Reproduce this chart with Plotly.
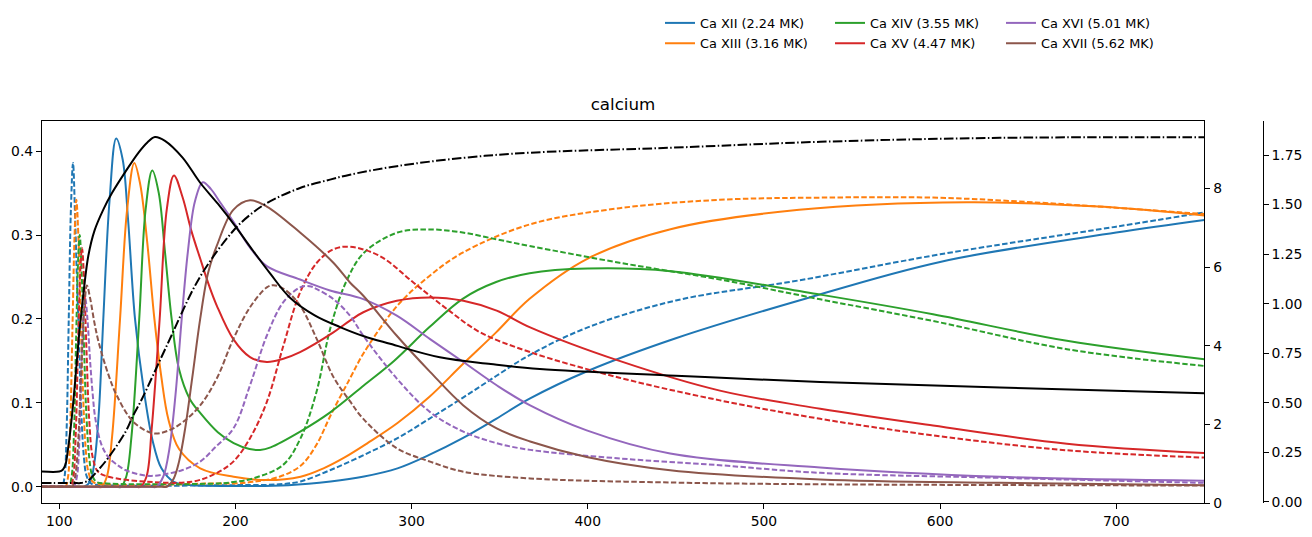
import plotly.graph_objects as go

# ---------------- data ----------------
# Ca XII
ca12_solid_t = [90, 111, 114, 117.5, 120, 122.5, 125, 128.5, 132.3, 136, 139, 143, 148, 153, 158, 165, 175, 200, 230, 254, 273, 292, 310, 329, 348, 367, 400, 450, 520, 600, 700, 750]
ca12_solid_y = [0, 0, 0, 0.006, 0.03, 0.09, 0.2, 0.34, 0.415, 0.39, 0.32, 0.2, 0.115, 0.055, 0.022, 0.006, 0.002, 0.001, 0.002, 0.0064, 0.0123, 0.022, 0.038, 0.058, 0.081, 0.105, 0.138, 0.177, 0.222, 0.268, 0.303, 0.318]
ca12_dash_t = [90, 99.5, 101.5, 103, 104.2, 105.3, 106.6, 107.8, 109, 110, 111, 112.5, 114, 115.5, 118, 125, 200, 225, 237, 254, 273, 292, 310, 329, 348, 367, 400, 450, 520, 600, 700, 750]
ca12_dash_y = [0, 0, 0, 0.012, 0.07, 0.19, 0.33, 0.386, 0.32, 0.25, 0.19, 0.09, 0.035, 0.013, 0.004, 0.002, 0.002, 0.003, 0.0064, 0.020, 0.038, 0.058, 0.081, 0.106, 0.132, 0.157, 0.19, 0.222, 0.246, 0.277, 0.310, 0.327]

# Ca XIII
ca13_solid_t = [90, 121, 124, 127, 130, 134.5, 138.5, 142.6, 146, 150, 154, 158, 162, 168, 180, 199, 218, 237, 250, 262, 275, 292, 310, 329, 348, 367, 400, 447, 520, 615, 690, 750]
ca13_solid_y = [0, 0, 0, 0.012, 0.06, 0.2, 0.33, 0.386, 0.36, 0.29, 0.2, 0.13, 0.08, 0.045, 0.022, 0.012, 0.008, 0.012, 0.022, 0.035, 0.052, 0.076, 0.107, 0.146, 0.184, 0.224, 0.272, 0.307, 0.330, 0.339, 0.334, 0.3233]
ca13_dash_t = [90, 101.5, 103.5, 105, 106.2, 107.5, 108.7, 109.7, 111, 112.3, 113.5, 115, 116.5, 119, 125, 190, 200, 210, 225, 237, 246, 254, 265, 273, 292, 310, 329, 367, 418, 475, 532, 596, 653, 750]
ca13_dash_y = [0, 0, 0, 0.012, 0.07, 0.19, 0.30, 0.342, 0.29, 0.19, 0.11, 0.045, 0.018, 0.006, 0.003, 0.004, 0.004, 0.006, 0.012, 0.025, 0.05, 0.085, 0.129, 0.160, 0.216, 0.251, 0.279, 0.3126, 0.332, 0.342, 0.3446, 0.3446, 0.339, 0.325]

# Ca XIV
ca14_solid_t = [90, 132, 135, 138, 141, 145.4, 149, 152.8, 156.5, 160, 163.8, 168, 174, 180, 190, 199, 208, 214, 220, 237, 254, 273, 290, 310, 329, 348, 367, 400, 447, 532, 596, 672, 750]
ca14_solid_y = [0, 0, 0, 0.012, 0.06, 0.2, 0.33, 0.377, 0.35, 0.28, 0.2, 0.14, 0.105, 0.088, 0.065, 0.052, 0.045, 0.044, 0.047, 0.066, 0.089, 0.121, 0.150, 0.19, 0.224, 0.244, 0.2545, 0.260, 0.257, 0.229, 0.2056, 0.174, 0.152]
ca14_dash_t = [90, 103.5, 105.5, 107, 108.3, 109.5, 110.7, 111.6, 112.8, 114, 115.3, 117, 118.5, 121, 127, 190, 200, 210, 227, 237, 246, 254, 263, 273, 292, 310, 329, 348, 367, 418, 475, 532, 596, 672, 750]
ca14_dash_y = [0, 0, 0, 0.012, 0.06, 0.17, 0.27, 0.30, 0.25, 0.17, 0.09, 0.035, 0.015, 0.006, 0.004, 0.004, 0.006, 0.01, 0.026, 0.058, 0.113, 0.19, 0.245, 0.279, 0.303, 0.3067, 0.303, 0.295, 0.287, 0.267, 0.247, 0.2234, 0.1976, 0.164, 0.144]

# Ca XV
ca15_solid_t = [90, 143, 146, 149.5, 152.5, 157, 161, 165.1, 170, 175, 180, 185, 189.4, 198.8, 208.3, 217.8, 227.2, 236.7, 255.6, 265, 272.6, 291.6, 310.5, 329.4, 348.3, 367.3, 418, 475, 532, 596, 672, 750]
ca15_solid_y = [0, 0, 0, 0.012, 0.07, 0.2, 0.33, 0.371, 0.345, 0.305, 0.272, 0.24, 0.216, 0.176, 0.1546, 0.1487, 0.1526, 0.1605, 0.184, 0.198, 0.208, 0.2217, 0.2257, 0.2217, 0.21, 0.19, 0.150, 0.1146, 0.093, 0.073, 0.0514, 0.0403]
ca15_dash_t = [90, 104.3, 106.3, 108, 109.3, 110.7, 112, 112.9, 114.2, 115.5, 117, 119, 122, 128, 150, 175, 188, 198.8, 208.3, 217.8, 227.2, 236.7, 246.2, 255.6, 265, 282, 301, 320, 339, 367.3, 418, 475, 532, 596, 672, 750]
ca15_dash_y = [0, 0, 0, 0.012, 0.06, 0.17, 0.26, 0.285, 0.24, 0.16, 0.08, 0.035, 0.018, 0.012, 0.006, 0.006, 0.015, 0.030, 0.058, 0.101, 0.168, 0.2316, 0.267, 0.283, 0.286, 0.275, 0.2435, 0.212, 0.184, 0.1605, 0.130, 0.103, 0.081, 0.0613, 0.0435, 0.0348]

# Ca XVI
ca16_solid_t = [90, 152, 155, 159, 162.5, 166, 169.5, 173, 177, 181.5, 186, 191, 198.8, 208.3, 217.8, 236.7, 253.7, 272.6, 291.6, 310.5, 329.4, 348.3, 367.3, 399.4, 446.8, 532, 634, 750]
ca16_solid_y = [0, 0, 0, 0.012, 0.045, 0.11, 0.2, 0.28, 0.34, 0.363, 0.355, 0.34, 0.316, 0.285, 0.263, 0.247, 0.234, 0.2237, 0.204, 0.176, 0.1487, 0.121, 0.097, 0.0672, 0.0396, 0.023, 0.0119, 0.0071]
ca16_dash_t = [90, 106.2, 108.2, 110, 111.3, 112.5, 113.8, 114.8, 116, 117.5, 119, 120.5, 124, 128, 133, 137.5, 145, 152, 160, 170, 180, 189, 199, 208.3, 217.8, 227.2, 236.7, 242, 246.2, 255.6, 265, 272.6, 291.6, 310.5, 329.4, 348.3, 367.3, 418.4, 475, 532, 634, 750]
ca16_dash_y = [0, 0, 0, 0.012, 0.05, 0.14, 0.205, 0.224, 0.20, 0.15, 0.11, 0.081, 0.05, 0.035, 0.026, 0.020, 0.015, 0.013, 0.015, 0.020, 0.030, 0.048, 0.07, 0.121, 0.18, 0.22, 0.2376, 0.239, 0.2355, 0.2237, 0.204, 0.18, 0.129, 0.089, 0.0657, 0.052, 0.044, 0.0337, 0.0257, 0.0166, 0.0107, 0.0047]

# Ca XVII
ca17_solid_t = [90, 158, 161, 165, 168, 171.5, 175.5, 180, 184.5, 189.4, 198.8, 208.3, 217.8, 236.7, 255.6, 265, 272.6, 291.6, 310.5, 329.4, 348.3, 367.3, 399.4, 446.8, 532, 634, 750]
ca17_solid_y = [0, 0, 0, 0.01, 0.03, 0.07, 0.13, 0.2, 0.255, 0.287, 0.330, 0.3414, 0.334, 0.303, 0.267, 0.2435, 0.2276, 0.18, 0.137, 0.097, 0.0696, 0.054, 0.0356, 0.0198, 0.0087, 0.0047, 0.002]
ca17_dash_t = [90, 105.3, 107.3, 109, 110.5, 112.5, 114.3, 115.7, 117.5, 120, 122.4, 128, 132.6, 142, 153.4, 162, 170.4, 180, 189.4, 198.8, 208.3, 217.8, 221.6, 228, 236.7, 246.2, 255.6, 265, 272.6, 291.6, 310.5, 329.4, 367.3, 450, 532, 650, 750]
ca17_dash_y = [0, 0, 0, 0.012, 0.045, 0.14, 0.215, 0.24, 0.225, 0.195, 0.172, 0.133, 0.109, 0.0775, 0.0637, 0.067, 0.0775, 0.097, 0.129, 0.176, 0.214, 0.2376, 0.2403, 0.235, 0.216, 0.176, 0.131, 0.102, 0.081, 0.046, 0.030, 0.018, 0.010, 0.005, 0.003, 0.002, 0.0015]

# Temperature (MK, right axis) and density (offset right axis)
temp_t = [90, 100, 102, 103.5, 105, 107, 109, 111, 113, 116.5, 120, 125, 130, 137.5, 145, 150, 154.3, 160, 170, 180, 190, 200, 210, 220, 231, 245, 259.4, 273, 287.8, 316, 345, 372.8, 450, 532, 634, 750]
temp_mk = [0.80, 0.80, 0.847, 0.975, 1.381, 2.128, 3.089, 4.156, 5.032, 6.291, 6.932, 7.466, 7.893, 8.426, 8.917, 9.174, 9.314, 9.216, 8.789, 8.149, 7.615, 7.039, 6.419, 5.822, 5.224, 4.775, 4.477, 4.242, 4.050, 3.708, 3.537, 3.409, 3.238, 3.078, 2.939, 2.790]
dens_t = [90, 110, 112, 116, 123, 128, 137.5, 142, 147, 161, 179.9, 198.8, 208.3, 217.8, 236.7, 253.7, 265, 291.6, 329.4, 367.3, 446.8, 532, 634, 750]
dens_val = [0.094, 0.094, 0.094, 0.105, 0.169, 0.224, 0.351, 0.436, 0.520, 0.787, 1.135, 1.368, 1.448, 1.507, 1.584, 1.626, 1.651, 1.694, 1.736, 1.762, 1.787, 1.817, 1.837, 1.840]

ion_labels = ["Ca XII (2.24 MK)", "Ca XIII (3.16 MK)", "Ca XIV (3.55 MK)",
              "Ca XV (4.47 MK)", "Ca XVI (5.01 MK)", "Ca XVII (5.62 MK)"]
x_ticks = [100, 200, 300, 400, 500, 600, 700]
y_ticks = [0.0, 0.1, 0.2, 0.3, 0.4]
temp_ticks = [0, 2, 4, 6, 8]
dens_ticks = [0.00, 0.25, 0.50, 0.75, 1.00, 1.25, 1.50, 1.75]

# ---------------- figure ----------------
colors = ["#1f77b4", "#ff7f0e", "#2ca02c", "#d62728", "#9467bd", "#8c564b"]
solids = [(ca12_solid_t, ca12_solid_y), (ca13_solid_t, ca13_solid_y), (ca14_solid_t, ca14_solid_y),
          (ca15_solid_t, ca15_solid_y), (ca16_solid_t, ca16_solid_y), (ca17_solid_t, ca17_solid_y)]
dashes = [(ca12_dash_t, ca12_dash_y), (ca13_dash_t, ca13_dash_y), (ca14_dash_t, ca14_dash_y),
          (ca15_dash_t, ca15_dash_y), (ca16_dash_t, ca16_dash_y), (ca17_dash_t, ca17_dash_y)]

FONT = "DejaVu Sans"
L, R, T, B = 42, 8, 119, 34
W, H = 1312, 537
PW = W - L - R
PH = H - T - B
x_end = (1204.3 - L) / PW

def px_to_paper_x(px):
    return (px - L) / PW

def py_to_paper_y(py):
    return (H - B - py) / PH

# legend slot positions (pixel coords of item origin), column-major like the reference
legend_pos = [(660, 20.5), (660, 41), (830, 20.5), (830, 41), (1001, 20.5), (1001, 41)]

SMOOTH = 1.0
fig = go.Figure()
for i in range(6):
    lname = "legend" if i == 0 else f"legend{i+1}"
    st, sy = solids[i]
    dt, dy = dashes[i]
    fig.add_trace(go.Scatter(x=st, y=sy, mode="lines", name=ion_labels[i],
                             line=dict(color=colors[i], width=2, shape="spline", smoothing=SMOOTH),
                             legend=lname, showlegend=True, hoverinfo="skip"))
    fig.add_trace(go.Scatter(x=dt, y=dy, mode="lines", showlegend=False,
                             line=dict(color=colors[i], width=2, dash="5.5px,2.4px", shape="spline", smoothing=SMOOTH),
                             hoverinfo="skip"))

fig.add_trace(go.Scatter(x=temp_t, y=temp_mk, mode="lines", showlegend=False, yaxis="y2",
                         line=dict(color="black", width=2, shape="spline", smoothing=SMOOTH), hoverinfo="skip"))
fig.add_trace(go.Scatter(x=dens_t, y=dens_val, mode="lines", showlegend=False, yaxis="y3",
                         line=dict(color="black", width=2, dash="9.6px,2.4px,1.5px,2.4px", shape="spline", smoothing=SMOOTH),
                         hoverinfo="skip"))

axis_common = dict(showgrid=False, zeroline=False, showline=True, linecolor="black", linewidth=1.1,
                   ticks="outside", ticklen=5, tickwidth=1.1, tickcolor="black",
                   tickfont=dict(family=FONT, size=13.9, color="black"))

layout = dict(
    width=W, height=H,
    margin=dict(l=L, r=R, t=T, b=B, pad=0),
    paper_bgcolor="white", plot_bgcolor="white",
    font=dict(family=FONT, size=13.9, color="black"),
    title=dict(text="calcium", x=px_to_paper_x(623), xref="paper", xanchor="center",
               y=1 - 104 / H, yref="container", yanchor="middle",
               font=dict(family=FONT, size=16.7, color="black")),
    xaxis=dict(domain=[0, x_end], range=[90.2, 750], tickvals=x_ticks, mirror=True, **axis_common),
    yaxis=dict(range=[-0.0193, 0.4359], tickvals=y_ticks, tickformat=".1f", mirror=True, **axis_common),
    yaxis2=dict(overlaying="y", side="right", anchor="x", range=[0, 9.72], tickvals=temp_ticks, **axis_common),
    yaxis3=dict(overlaying="y", side="right", anchor="free", position=px_to_paper_x(1262.7),
                range=[-0.0065, 1.922], tickvals=dens_ticks, tickformat=".2f", **axis_common),
)
for i, (lx, ly) in enumerate(legend_pos):
    lname = "legend" if i == 0 else f"legend{i+1}"
    layout[lname] = dict(x=px_to_paper_x(lx), y=py_to_paper_y(ly), xanchor="left", yanchor="middle",
                         xref="paper", yref="paper",
                         bgcolor="rgba(0,0,0,0)", borderwidth=0,
                         font=dict(family=FONT, size=12.9, color="black"))
fig.update_layout(**layout)

fig.write_html("out.html")
